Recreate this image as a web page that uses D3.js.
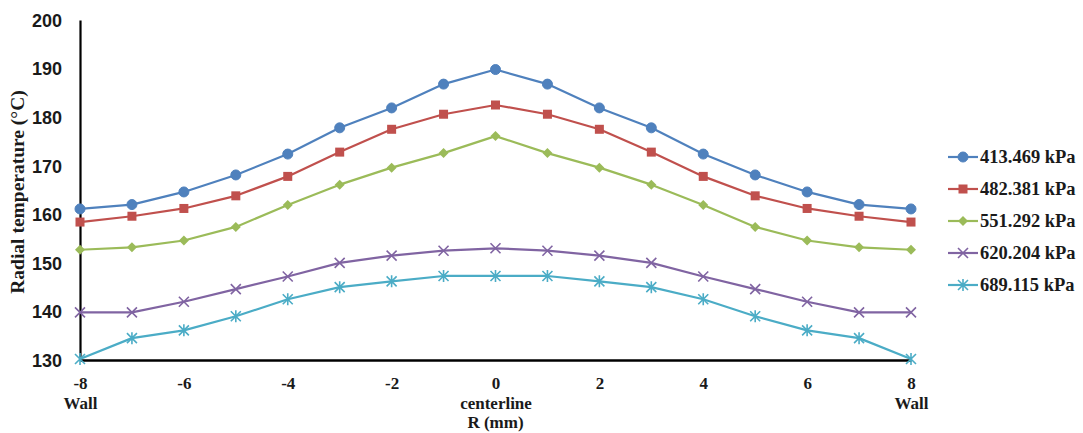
<!DOCTYPE html>
<html>
<head>
<meta charset="utf-8">
<script src="https://cdn.jsdelivr.net/npm/d3@7"></script>
<style>
  html, body { margin: 0; padding: 0; background: #fff; }
  svg { display: block; }
</style>
</head>
<body>
<svg id="chart" width="1083" height="433"></svg>
<script>
// Radial positions (mm) from wall to wall
const radius = [-8, -7, -6, -5, -4, -3, -2, -1, 0, 1, 2, 3, 4, 5, 6, 7, 8];

// Radial temperature (°C) for each inlet pressure
const temp413 = [161.1, 162.0, 164.6, 168.1, 172.4, 177.8, 181.9, 186.8, 189.8, 186.8, 181.9, 177.8, 172.4, 168.1, 164.6, 162.0, 161.1];
const temp482 = [158.4, 159.6, 161.2, 163.8, 167.8, 172.8, 177.5, 180.6, 182.5, 180.6, 177.5, 172.8, 167.8, 163.8, 161.2, 159.6, 158.4];
const temp551 = [152.7, 153.2, 154.6, 157.4, 161.9, 166.1, 169.6, 172.6, 176.1, 172.6, 169.6, 166.1, 161.9, 157.4, 154.6, 153.2, 152.7];
const temp620 = [139.8, 139.8, 142.0, 144.6, 147.2, 150.0, 151.5, 152.5, 153.0, 152.5, 151.5, 150.0, 147.2, 144.6, 142.0, 139.8, 139.8];
const temp689 = [130.2, 134.5, 136.1, 139.0, 142.5, 145.0, 146.2, 147.3, 147.3, 147.3, 146.2, 145.0, 142.5, 139.0, 136.1, 134.5, 130.2];

const seriesNames = ["413.469 kPa", "482.381 kPa", "551.292 kPa", "620.204 kPa", "689.115 kPa"];
const seriesValues = [temp413, temp482, temp551, temp620, temp689];
const seriesColors = ["#4F81BD", "#C0504D", "#9BBB59", "#8064A2", "#4BACC6"];
const seriesMarkers = ["circle", "square", "diamond", "cross", "star"];

const xTicks = [-8, -6, -4, -2, 0, 2, 4, 6, 8];
const yTicks = [130, 140, 150, 160, 170, 180, 190, 200];
const xSubLabels = { "-8": "Wall", "0": "centerline", "8": "Wall" };

const svg = d3.select("#chart");
const serif = "'Liberation Serif', 'Times New Roman', serif";
const sans = "'Liberation Sans', Arial, sans-serif";

const x = d3.scaleLinear().domain([-8, 8]).range([80, 911]);
const y = d3.scaleLinear().domain([130, 200]).range([360, 20]);

// Y axis: line + labels, no tick marks
const yAxis = d3.axisLeft(y).tickValues(yTicks).tickSize(0).tickPadding(18).tickFormat(d => String(d));
const gy = svg.append("g").attr("transform", `translate(${x(-8)},0)`).call(yAxis);
gy.select(".domain").attr("stroke", "#000").attr("stroke-width", 2.2);
gy.selectAll("text").attr("font-family", sans).attr("font-weight", "bold")
  .attr("font-size", 18).attr("fill", "#1a1a1a").attr("dy", "0.35em");

// X axis (plain hyphen for negatives)
const xAxis = d3.axisBottom(x).tickValues(xTicks).tickSize(0).tickPadding(17).tickFormat(d => String(d));
const gx = svg.append("g").attr("transform", `translate(0,${y(130)})`).call(xAxis);
gx.select(".domain").attr("stroke", "#000").attr("stroke-width", 2.6);
gx.selectAll("text").attr("font-family", serif).attr("font-weight", "bold")
  .attr("font-size", 17).attr("fill", "#1a1a1a");

// Second line under selected x labels
gx.selectAll(".tick").each(function(d) {
  const s = xSubLabels[String(d)];
  if (s) {
    d3.select(this).append("text")
      .attr("y", 48.5).attr("fill", "#1a1a1a")
      .attr("font-family", serif).attr("font-weight", "bold").attr("font-size", 17)
      .attr("text-anchor", "middle")
      .text(s);
  }
});

// Axis titles
svg.append("text")
  .attr("x", x(0)).attr("y", 428)
  .attr("text-anchor", "middle")
  .attr("font-family", serif).attr("font-weight", "bold").attr("font-size", 17)
  .attr("fill", "#1a1a1a")
  .text("R (mm)");

svg.append("text")
  .attr("transform", `translate(24,192) rotate(-90)`)
  .attr("text-anchor", "middle")
  .attr("font-family", serif).attr("font-weight", "bold").attr("font-size", 19.5)
  .attr("fill", "#1a1a1a")
  .text("Radial temperature (°C)");

// Marker drawing
function drawMarker(g, type, color) {
  switch (type) {
    case "circle":
      g.append("circle").attr("r", 5).attr("fill", color).attr("stroke", color);
      break;
    case "square":
      g.append("rect").attr("x", -4.5).attr("y", -4.5).attr("width", 9).attr("height", 9).attr("fill", color);
      break;
    case "diamond":
      g.append("path").attr("d", "M0,-5L5,0L0,5L-5,0Z").attr("fill", color);
      break;
    case "cross":
      g.append("path").attr("d", "M-5,-5L5,5M-5,5L5,-5").attr("stroke", color).attr("stroke-width", 1.6).attr("fill", "none");
      break;
    case "star":
      g.append("path").attr("d", "M-5,-5L5,5M-5,5L5,-5M0,-6L0,6").attr("stroke", color).attr("stroke-width", 1.6).attr("fill", "none");
      break;
  }
}

const line = d3.line().x((d, i) => x(radius[i])).y(d => y(d));

seriesValues.forEach((vals, si) => {
  const color = seriesColors[si];
  svg.append("path")
    .datum(vals)
    .attr("d", line)
    .attr("fill", "none")
    .attr("stroke", color)
    .attr("stroke-width", 2.2)
    .attr("stroke-linejoin", "round");
  const mg = svg.append("g");
  vals.forEach((v, i) => {
    const g = mg.append("g").attr("transform", `translate(${x(radius[i])},${y(v)})`);
    drawMarker(g, seriesMarkers[si], color);
  });
});

// Legend
const legend = svg.append("g").attr("transform", "translate(948,157)");
seriesNames.forEach((name, i) => {
  const row = legend.append("g").attr("transform", `translate(0,${i * 32})`);
  row.append("line").attr("x1", 0).attr("x2", 30).attr("y1", 0).attr("y2", 0)
    .attr("stroke", seriesColors[i]).attr("stroke-width", 2.2);
  const m = row.append("g").attr("transform", "translate(15,0)");
  drawMarker(m, seriesMarkers[i], seriesColors[i]);
  row.append("text").attr("x", 32).attr("y", 0).attr("dy", "0.35em")
    .attr("font-family", serif).attr("font-weight", "bold").attr("font-size", 18.5)
    .attr("fill", "#1a1a1a")
    .text(name);
});
</script>
</body>
</html>
